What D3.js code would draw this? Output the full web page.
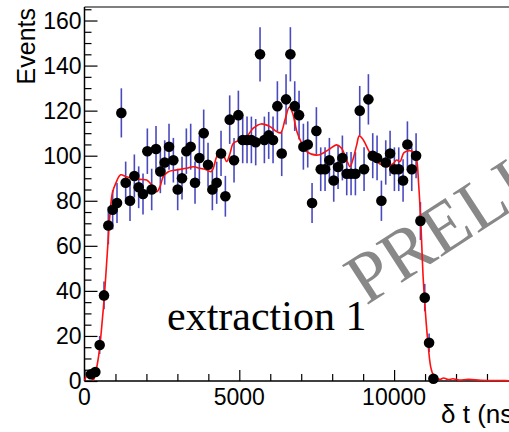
<!DOCTYPE html>
<html><head><meta charset="utf-8">
<script src="https://cdn.jsdelivr.net/npm/d3@7"></script>
<style>html,body{margin:0;padding:0;background:#fff;overflow:hidden}</style>
</head><body>
<svg id="c" width="509" height="432"></svg>
<script>
// histogram: bin width (ns) and counts per bin (first bin index 1)
const binWidth = 140;
const firstBin = 1;
const counts = [3,4,16,38,69,76,79,119,88,80,91,86,83,102,85,103,93,97,104,98,
  85,90,102,104,88,99,110,96,85,88,101,82,116,98,118,107,107,107,106,145,
  107,109,107,122,101,125,145,122,118,104,105,79,111,94,94,98,89,95,99,92,
  92,92,120,94,125,100,99,80,97,101,94,94,89,105,94,100,71,37,17,1];
// red model curve
const curveT = [0,120,210,285,362,468,575,652,736,824,898,1008,1169,1340,1525,1793,2009,2171,2332,2439,
  2545,2707,2978,3301,3514,3731,3947,4086,4160,4270,4377,4506,4593,4700,4806,5023,5239,5452,5700,5992,
  6208,6337,6476,6615,6725,6854,7016,7177,7552,7875,8146,8300,8469,8576,8682,8792,8876,9005,9166,9328,
  9545,9761,9974,10084,10191,10320,10514,10642,10729,10790,10859,10943,11030,11105,11182,11266,11376,11483,11600,11750,
  11900,12100,12400,12800,13300,14000];
const curveV = [0.3,3,1.5,0.5,4,12.3,27,39.6,56.7,74.4,83.3,87.7,91.5,90.7,90,89.5,89.2,87,84,86.3,
  90.7,92.9,93.7,94.4,95.1,94.4,93.7,92.9,94.4,99.6,101.4,99.6,97.4,101,105.5,107,108.5,112.2,114.1,112.9,
  110.7,110.2,115.9,121.5,118.8,111,105.5,101.8,100.3,102.6,104.8,103.3,98.1,95.1,98.9,104.8,108.8,107,102.6,98.9,
  96.3,95.1,96.6,98.1,97.4,101.4,102.2,101.4,98.1,88,71.5,44.8,27,15.2,6.3,2.7,1.2,0.7,1.3,0.6,
  1.0,0.4,0.7,0.3,0.2,0.1];
const yTicks = [0,20,40,60,80,100,120,140,160];
const xTicks = [0,5000,10000];

const svg = d3.select('#c');
const x = d3.scaleLinear().domain([0,14000]).range([84.5, 84.5+14000*0.03096]);
const y = d3.scaleLinear().domain([0,166]).range([381, 7]);

// frame
svg.append('line').attr('x1',84.5).attr('x2',509).attr('y1',7).attr('y2',7).attr('stroke','#000').attr('stroke-width',1.2);

// axes with inward ticks
const font = 'Liberation Sans, Arial, sans-serif';
const yAxis = d3.axisLeft(y).tickValues(d3.range(0,166,5)).tickSize(-7).tickFormat('');
const gy = svg.append('g').attr('transform','translate(84.5,0)').call(yAxis);
gy.selectAll('.tick line').filter(d=>d%20===0).attr('x2',13);
gy.select('.domain').remove();
svg.append('line').attr('x1',84.5).attr('x2',84.5).attr('y1',7).attr('y2',381).attr('stroke','#000').attr('stroke-width',1.5);
gy.selectAll('.tick line').attr('stroke','#000').attr('stroke-width',1.2);
svg.append('g').selectAll('text').data(yTicks).join('text')
  .attr('x',81.5).attr('y',d=>y(d)).attr('dy','0.36em').attr('text-anchor','end')
  .attr('font-family',font).attr('font-size',23).attr('fill','#000').text(d=>d);

const xAxis = d3.axisBottom(x).tickValues(d3.range(0,14001,1000)).tickSize(-7).tickFormat('');
const gx = svg.append('g').attr('transform','translate(0,381)').call(xAxis);
gx.select('.domain').remove();
gx.selectAll('.tick line').filter(d=>d%5000===0).attr('y2',-11);
gx.selectAll('.tick line').attr('stroke','#000').attr('stroke-width',1.2);
svg.append('line').attr('x1',84.5).attr('x2',509).attr('y1',381).attr('y2',381).attr('stroke','#000').attr('stroke-width',1.5);
svg.append('g').selectAll('text').data(xTicks).join('text')
  .attr('x',d=>x(d)).attr('y',405).attr('text-anchor','middle')
  .attr('font-family',font).attr('font-size',23).attr('fill','#000').text(d=>d);

// titles
svg.append('text').attr('transform','translate(35,8) rotate(-90)').attr('text-anchor','end')
  .attr('font-family',font).attr('font-size',25).attr('fill','#000').text('Events');
svg.append('text').attr('x',441).attr('y',423).attr('font-family',font).attr('font-size',26).attr('fill','#000').text('δ t (ns)');

// watermark
svg.append('text').attr('transform','translate(366,306) rotate(-33)')
  .attr('font-family','Liberation Serif, Times New Roman, serif').attr('font-size',72).attr('fill','#888').text('PRELIMINARY');

// label
svg.append('text').attr('x',167).attr('y',330).attr('font-family','Liberation Serif, Times New Roman, serif')
  .attr('font-size',42).attr('fill','#000').text('extraction 1');

// data
const pts = counts.map((c,i)=>({t:(firstBin+i+0.5)*binWidth, v:c}));
svg.append('g').selectAll('line').data(pts).join('line')
  .attr('x1',d=>x(d.t)).attr('x2',d=>x(d.t))
  .attr('y1',d=>y(d.v+Math.sqrt(d.v))).attr('y2',d=>y(Math.max(0,d.v-Math.sqrt(d.v))))
  .attr('stroke','#2a2ab4').attr('stroke-width',1.6).attr('stroke-opacity',0.85);

// curve
const cd = curveT.map((t,i)=>[t,curveV[i]]);
svg.append('path').datum(cd)
  .attr('d', d3.line().x(d=>x(d[0])).y(d=>y(d[1])).curve(d3.curveCatmullRom.alpha(0.5)))
  .attr('fill','none').attr('stroke','#ff1010').attr('stroke-width',1.6);

svg.append('g').selectAll('circle').data(pts).join('circle')
  .attr('cx',d=>x(d.t)).attr('cy',d=>y(d.v)).attr('r',5.3).attr('fill','#000');
</script>
</body></html>
